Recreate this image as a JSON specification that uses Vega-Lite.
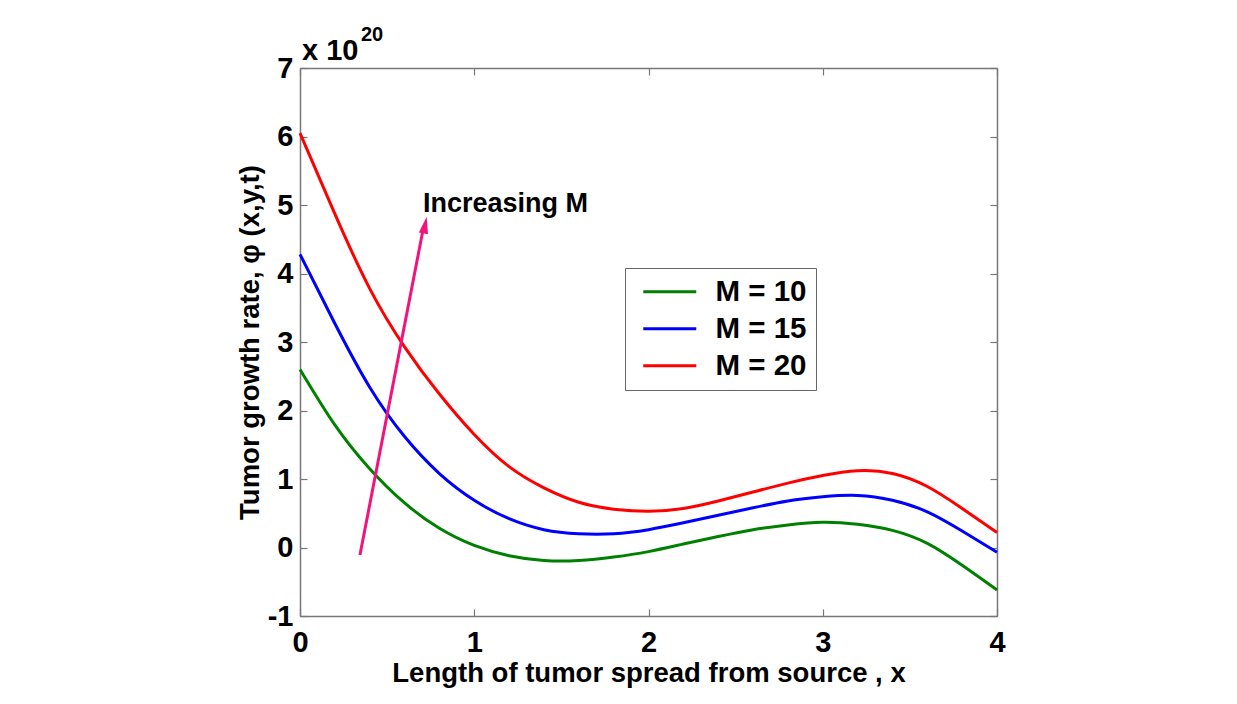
{
  "$schema": "https://vega.github.io/schema/vega-lite/v6.json",
  "width": 697,
  "height": 548,
  "autosize": {"type": "none"},
  "padding": {"left": 300, "top": 68, "right": 240, "bottom": 88},
  "background": "white",
  "config": {
    "view": {"stroke": null},
    "font": "Liberation Sans",
    "axis": {
      "grid": false,
      "domainColor": "#777777",
      "domainWidth": 1.5,
      "tickColor": "#777777",
      "tickWidth": 1.2,
      "tickSize": -7,
      "labelFont": "Liberation Sans",
      "labelFontSize": 29,
      "labelFontWeight": "bold",
      "labelColor": "#000000",
      "labelFlush": false,
      "labelBound": false,
      "labelOverlap": false,
      "titleFont": "Liberation Sans",
      "titleFontSize": 27.5,
      "titleFontWeight": "bold",
      "titleColor": "#000000"
    },
    "legend": {
      "orient": "none",
      "legendX": 325,
      "legendY": 200,
      "title": null,
      "symbolType": "M-0.786,0H6.786",
      "symbolSize": 196,
      "symbolStrokeWidth": 3,
      "symbolFillColor": "transparent",
      "labelFont": "Liberation Sans",
      "labelFontSize": 29.5,
      "labelFontWeight": "bold",
      "labelColor": "#000000",
      "labelOffset": 52,
      "strokeColor": "#666666",
      "fillColor": "#ffffff",
      "padding": 9,
      "rowPadding": 6
    }
  },
  "datasets": {
    "curves": [
      {"x": 0.0, "y": 2.6, "M": "M = 10"},
      {"x": 0.2, "y": 1.79, "M": "M = 10"},
      {"x": 0.4, "y": 1.15, "M": "M = 10"},
      {"x": 0.6, "y": 0.65, "M": "M = 10"},
      {"x": 0.8, "y": 0.28, "M": "M = 10"},
      {"x": 1.0, "y": 0.03, "M": "M = 10"},
      {"x": 1.2, "y": -0.12, "M": "M = 10"},
      {"x": 1.4, "y": -0.19, "M": "M = 10"},
      {"x": 1.6, "y": -0.19, "M": "M = 10"},
      {"x": 1.8, "y": -0.14, "M": "M = 10"},
      {"x": 2.0, "y": -0.06, "M": "M = 10"},
      {"x": 2.2, "y": 0.05, "M": "M = 10"},
      {"x": 2.4, "y": 0.16, "M": "M = 10"},
      {"x": 2.6, "y": 0.26, "M": "M = 10"},
      {"x": 2.8, "y": 0.33, "M": "M = 10"},
      {"x": 3.0, "y": 0.37, "M": "M = 10"},
      {"x": 3.2, "y": 0.34, "M": "M = 10"},
      {"x": 3.4, "y": 0.25, "M": "M = 10"},
      {"x": 3.6, "y": 0.06, "M": "M = 10"},
      {"x": 3.8, "y": -0.26, "M": "M = 10"},
      {"x": 4.0, "y": -0.62, "M": "M = 10"},
      {"x": 0.0, "y": 4.28, "M": "M = 15"},
      {"x": 0.2, "y": 3.27, "M": "M = 15"},
      {"x": 0.4, "y": 2.34, "M": "M = 15"},
      {"x": 0.6, "y": 1.62, "M": "M = 15"},
      {"x": 0.8, "y": 1.08, "M": "M = 15"},
      {"x": 1.0, "y": 0.69, "M": "M = 15"},
      {"x": 1.2, "y": 0.42, "M": "M = 15"},
      {"x": 1.4, "y": 0.26, "M": "M = 15"},
      {"x": 1.6, "y": 0.2, "M": "M = 15"},
      {"x": 1.8, "y": 0.2, "M": "M = 15"},
      {"x": 2.0, "y": 0.26, "M": "M = 15"},
      {"x": 2.2, "y": 0.36, "M": "M = 15"},
      {"x": 2.4, "y": 0.47, "M": "M = 15"},
      {"x": 2.6, "y": 0.58, "M": "M = 15"},
      {"x": 2.8, "y": 0.68, "M": "M = 15"},
      {"x": 3.0, "y": 0.74, "M": "M = 15"},
      {"x": 3.2, "y": 0.76, "M": "M = 15"},
      {"x": 3.4, "y": 0.69, "M": "M = 15"},
      {"x": 3.6, "y": 0.52, "M": "M = 15"},
      {"x": 3.8, "y": 0.24, "M": "M = 15"},
      {"x": 4.0, "y": -0.07, "M": "M = 15"},
      {"x": 0.0, "y": 6.05, "M": "M = 20"},
      {"x": 0.2, "y": 4.87, "M": "M = 20"},
      {"x": 0.4, "y": 3.78, "M": "M = 20"},
      {"x": 0.6, "y": 2.93, "M": "M = 20"},
      {"x": 0.8, "y": 2.24, "M": "M = 20"},
      {"x": 1.0, "y": 1.65, "M": "M = 20"},
      {"x": 1.2, "y": 1.18, "M": "M = 20"},
      {"x": 1.4, "y": 0.87, "M": "M = 20"},
      {"x": 1.6, "y": 0.66, "M": "M = 20"},
      {"x": 1.8, "y": 0.56, "M": "M = 20"},
      {"x": 2.0, "y": 0.53, "M": "M = 20"},
      {"x": 2.2, "y": 0.57, "M": "M = 20"},
      {"x": 2.4, "y": 0.68, "M": "M = 20"},
      {"x": 2.6, "y": 0.81, "M": "M = 20"},
      {"x": 2.8, "y": 0.94, "M": "M = 20"},
      {"x": 3.0, "y": 1.05, "M": "M = 20"},
      {"x": 3.2, "y": 1.12, "M": "M = 20"},
      {"x": 3.4, "y": 1.08, "M": "M = 20"},
      {"x": 3.6, "y": 0.89, "M": "M = 20"},
      {"x": 3.8, "y": 0.57, "M": "M = 20"},
      {"x": 4.0, "y": 0.22, "M": "M = 20"}
    ]
  },
  "layer": [
    {
      "data": {"name": "curves"},
      "mark": {"type": "line", "strokeWidth": 3, "interpolate": "natural"},
      "encoding": {
        "x": {
          "field": "x",
          "type": "quantitative",
          "scale": {"domain": [0, 4], "nice": false, "zero": false},
          "axis": {
            "orient": "bottom",
            "values": [0, 1, 2, 3, 4],
            "labelExpr": "datum.value + ''",
            "labelPadding": 19,
            "title": "Length of tumor spread from source , x",
            "titlePadding": 2
          }
        },
        "y": {
          "field": "y",
          "type": "quantitative",
          "scale": {"domain": [-1, 7], "nice": false, "zero": false},
          "axis": {
            "orient": "left",
            "values": [-1, 0, 1, 2, 3, 4, 5, 6, 7],
            "labelExpr": "datum.value + ''",
            "labelPadding": 14,
            "title": "Tumor growth rate, φ (x,y,t)",
            "titlePadding": 3
          }
        },
        "color": {
          "field": "M",
          "type": "nominal",
          "scale": {"domain": ["M = 10", "M = 15", "M = 20"], "range": ["#008000", "#0000ff", "#ff0000"]},
          "legend": {}
        }
      }
    },
    {
      "data": {"values": [{}]},
      "mark": {"type": "rule", "color": "#f0147c", "strokeWidth": 3},
      "encoding": {
        "x": {
          "datum": 0.344,
          "type": "quantitative",
          "axis": {"orient": "top", "values": [0, 1, 2, 3, 4], "labels": false, "title": null}
        },
        "y": {
          "datum": -0.11,
          "type": "quantitative",
          "axis": {"orient": "right", "values": [-1, 0, 1, 2, 3, 4, 5, 6, 7], "labels": false, "title": null}
        },
        "x2": {"datum": 0.707},
        "y2": {"datum": 4.65}
      }
    },
    {
      "data": {"values": [{}]},
      "mark": {"type": "point", "shape": "M0,0L0.55,2L-0.55,2Z", "filled": true, "color": "#f0147c", "opacity": 1, "size": 289, "angle": 11},
      "encoding": {
        "x": {"datum": 0.727, "type": "quantitative", "axis": null},
        "y": {"datum": 4.83, "type": "quantitative", "axis": null}
      }
    },
    {
      "data": {"values": [{}]},
      "mark": {"type": "text", "text": "Increasing M", "align": "left", "baseline": "alphabetic", "font": "Liberation Sans", "fontSize": 27, "fontWeight": "bold", "color": "#000000"},
      "encoding": {
        "x": {"datum": 0.706, "type": "quantitative", "axis": null},
        "y": {"datum": 4.9, "type": "quantitative", "axis": null}
      }
    },
    {
      "data": {"values": [{}]},
      "mark": {"type": "text", "text": "x 10", "align": "left", "baseline": "alphabetic", "dx": 2, "dy": -8, "font": "Liberation Sans", "fontSize": 29, "fontWeight": "bold", "color": "#000000"},
      "encoding": {
        "x": {"datum": 0, "type": "quantitative", "axis": null},
        "y": {"datum": 7, "type": "quantitative", "axis": null}
      }
    },
    {
      "data": {"values": [{}]},
      "mark": {"type": "text", "text": "20", "align": "left", "baseline": "alphabetic", "dx": 61, "dy": -27, "font": "Liberation Sans", "fontSize": 20, "fontWeight": "bold", "color": "#000000"},
      "encoding": {
        "x": {"datum": 0, "type": "quantitative", "axis": null},
        "y": {"datum": 7, "type": "quantitative", "axis": null}
      }
    }
  ],
  "resolve": {"axis": {"x": "independent", "y": "independent"}}
}
